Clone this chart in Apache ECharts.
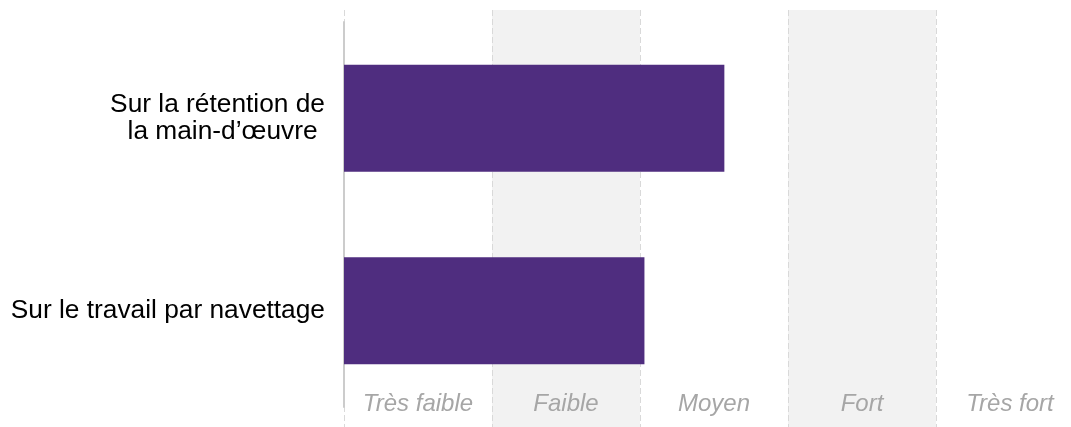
<!DOCTYPE html>
<html>
<head>
<meta charset="utf-8">
<script src="https://cdn.jsdelivr.net/npm/echarts@6/dist/echarts.min.js"></script>
<style>
html,body{margin:0;padding:0;background:#fff;}
#chart{width:1071px;height:427px;}
</style>
</head>
<body>
<div id="chart"></div>
<script>
const categories = ["Sur la rétention de\nla main-d’œuvre", "Sur le travail par navettage"];
const values = [2.57, 2.03];
const levelLabels = ["Très faible", "Faible", "Moyen", "Fort", "Très fort"];

const chart = echarts.init(document.getElementById('chart'), null, {renderer: 'canvas'});
const option = {
  animation: false,
  backgroundColor: '#ffffff',
  grid: [
    {left: 344, right: -13, top: 10, bottom: 0, outerBoundsMode: 'none', containLabel: false},
    {left: 344, right: -13, top: 22, bottom: 20, outerBoundsMode: 'none', containLabel: false}
  ],
  xAxis: [
    {
      gridIndex: 0, type: 'value', min: 0, max: 5, interval: 1,
      axisLine: {show: false}, axisTick: {show: false}, axisLabel: {show: false},
      splitLine: {show: true, lineStyle: {color: '#d9d9d9', width: 1, type: [6, 3]}},
      splitArea: {show: true, areaStyle: {color: ['rgba(255,255,255,0)', '#f2f2f2']}}
    },
    {
      gridIndex: 0, type: 'category', data: levelLabels, boundaryGap: true,
      position: 'bottom',
      axisLine: {show: false}, axisTick: {show: false}, splitLine: {show: false},
      axisLabel: {
        inside: true, margin: 11, color: '#a6a6a6', fontStyle: 'italic',
        fontFamily: 'Liberation Sans, Arial, sans-serif', fontSize: 24
      }
    },
    {
      gridIndex: 1, type: 'value', min: 0, max: 5, interval: 1,
      show: false
    }
  ],
  yAxis: [
    {gridIndex: 0, type: 'value', show: false},
    {
      gridIndex: 1, type: 'category', data: categories, inverse: true,
      axisLine: {show: true, lineStyle: {color: '#cccccc', width: 2}},
      axisTick: {show: false},
      splitLine: {show: false},
      axisLabel: {
        margin: 19, color: '#000000', fontSize: 26.3, lineHeight: 27,
        fontFamily: 'Liberation Sans, Arial, sans-serif',
        formatter: function (v) {
          const parts = v.split('\n');
          if (parts.length === 1) return '{c|' + parts[0] + '}';
          return parts.map(function (s, i) { return (i === 0 ? '{c|' : '{d|') + s + '}'; }).join('\n');
        },
        rich: {
          c: {align: 'center', fontSize: 26.3, lineHeight: 27, color: '#000000', fontFamily: 'Liberation Sans, Arial, sans-serif'},
          d: {align: 'center', fontSize: 26.3, lineHeight: 27, color: '#000000', fontFamily: 'Liberation Sans, Arial, sans-serif', padding: [0, 0, 0, 10]}
        }
      }
    }
  ],
  series: [
    {
      type: 'bar', xAxisIndex: 2, yAxisIndex: 1,
      data: values, barWidth: 107,
      itemStyle: {color: '#4f2d7f'}
    }
  ]
};
chart.setOption(option);
</script>
</body>
</html>
